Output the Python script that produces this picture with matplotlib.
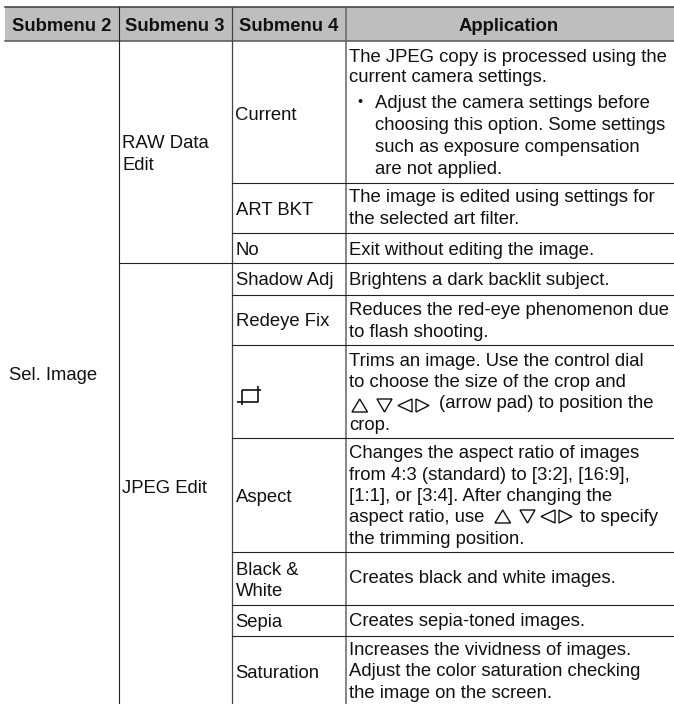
import matplotlib
matplotlib.use("Agg")
import matplotlib.pyplot as plt
from matplotlib.patches import Rectangle, Polygon

W, H = 674, 704
plt.rcParams['font.family'] = ['Liberation Sans', 'DejaVu Sans']

headers = ["Submenu 2", "Submenu 3", "Submenu 4", "Application"]
submenu2 = "Sel. Image"
submenu3 = [(["RAW Data", "Edit"], [148, 170]), (["JPEG Edit"], [493])]
submenu4 = [
    (["Current"], [120]), (["ART BKT"], [215]), (["No"], [255]),
    (["Shadow Adj"], [285]), (["Redeye Fix"], [326]),
    (["Aspect"], [502]), (["Black &", "White"], [575, 596]),
    (["Sepia"], [627]), (["Saturation"], [678]),
]
application = [
    ("The JPEG copy is processed using the", 349, 61.5),
    ("current camera settings.", 349, 81.5),
    ("Adjust the camera settings before", 375, 108.5),
    ("choosing this option. Some settings", 375, 130.5),
    ("such as exposure compensation", 375, 152),
    ("are not applied.", 375, 174),
    ("The image is edited using settings for", 349, 202),
    ("the selected art filter.", 349, 224),
    ("Exit without editing the image.", 349, 255),
    ("Brightens a dark backlit subject.", 349, 285),
    ("Reduces the red-eye phenomenon due", 349, 315),
    ("to flash shooting.", 349, 337),
    ("Trims an image. Use the control dial", 349, 365.5),
    ("to choose the size of the crop and", 349, 387),
    ("(arrow pad) to position the", 439, 408.5),
    ("crop.", 349, 430),
    ("Changes the aspect ratio of images", 349, 458),
    ("from 4:3 (standard) to [3:2], [16:9],", 349, 480),
    ("[1:1], or [3:4]. After changing the", 349, 501),
    ("aspect ratio, use", 349, 522.5),
    ("to specify", 580, 522.5),
    ("the trimming position.", 349, 543.5),
    ("Creates black and white images.", 349, 583),
    ("Creates sepia-toned images.", 349, 626),
    ("Increases the vividness of images.", 349, 655),
    ("Adjust the color saturation checking", 349, 676.5),
    ("the image on the screen.", 349, 698),
]

# layout, in reference pixels
X_LEFT, X2, X3, X4 = 5, 118.5, 231.5, 345.5
Y_TOP, Y_HEAD = 7, 41
rules_from_x3 = [183, 233, 295, 345, 438, 552, 605, 636]
rules_from_x2 = [263]
FS = 13.3
INK = "#111111"

fig = plt.figure(figsize=(W / 100, H / 100), dpi=100)
ax = fig.add_axes([0, 0, 1, 1])
ax.set_xlim(0, W)
ax.set_ylim(H, 0)
ax.axis("off")

ax.add_patch(Rectangle((X_LEFT, Y_TOP), W - X_LEFT, Y_HEAD - Y_TOP, fc="#bebebe", ec="none", zorder=0))
ax.plot([X_LEFT, W], [Y_TOP, Y_TOP], color="#3a3a3a", lw=1.1, zorder=2)
ax.plot([X_LEFT, W], [Y_HEAD, Y_HEAD], color="#555555", lw=1.1, zorder=2)
for x, lw, c in [(X2, 0.8, "#222222"), (X3, 0.9, "#444444"), (X4, 1.1, "#666666")]:
    ax.plot([x, x], [Y_TOP, H], color=c, lw=lw, zorder=2)
for y in rules_from_x3:
    ax.plot([X3, W], [y, y], color="#222222", lw=0.8, zorder=2)
for y in rules_from_x2:
    ax.plot([X2, W], [y, y], color="#222222", lw=0.8, zorder=2)

for label, cx in zip(headers, [61.5, 175, 288.5, 509]):
    ax.text(cx, 31, label, ha="center", va="baseline", fontsize=FS, fontweight="bold", color=INK)

ax.text(53, 380, submenu2, ha="center", va="baseline", fontsize=FS, color=INK)
for lines, ys in submenu3:
    for s, y in zip(lines, ys):
        ax.text(122, y, s, va="baseline", fontsize=FS, color=INK)
for lines, ys in submenu4:
    for s, y in zip(lines, ys):
        ax.text(235.5, y, s, va="baseline", fontsize=FS, color=INK)
for s, x, y in application:
    ax.text(x, y, s, va="baseline", fontsize=FS, color=INK)
ax.text(360, 106, "•", ha="center", va="baseline", fontsize=FS - 3, color=INK)

# crop icon
ic = dict(color=INK, lw=1.2, zorder=3, solid_capstyle="butt")
ax.plot([242, 258, 258, 242, 242], [390, 390, 402, 402, 390], **ic)
ax.plot([237, 242], [402, 402], **ic)
ax.plot([242, 242], [402, 405], **ic)
ax.plot([258, 260.5], [390, 390], **ic)
ax.plot([258, 258], [386, 390], **ic)

# arrow-pad glyphs
def arrows(x0, ytop, ybot):
    ymid = (ytop + ybot) / 2
    shapes = [
        [(x0, ybot), (x0 + 15.5, ybot), (x0 + 7.7, ytop)],
        [(x0 + 25, ytop), (x0 + 40, ytop), (x0 + 32.5, ybot)],
        [(x0 + 46, ymid), (x0 + 60, ytop), (x0 + 60, ybot)],
        [(x0 + 64, ytop), (x0 + 64, ybot), (x0 + 77, ymid)],
    ]
    for pts in shapes:
        ax.add_patch(Polygon(pts, closed=True, fc="none", ec=INK, lw=1.0, zorder=3))

arrows(352, 399, 412)
arrows(495, 510, 523)

fig.savefig("out.png", dpi=100, facecolor="white")
